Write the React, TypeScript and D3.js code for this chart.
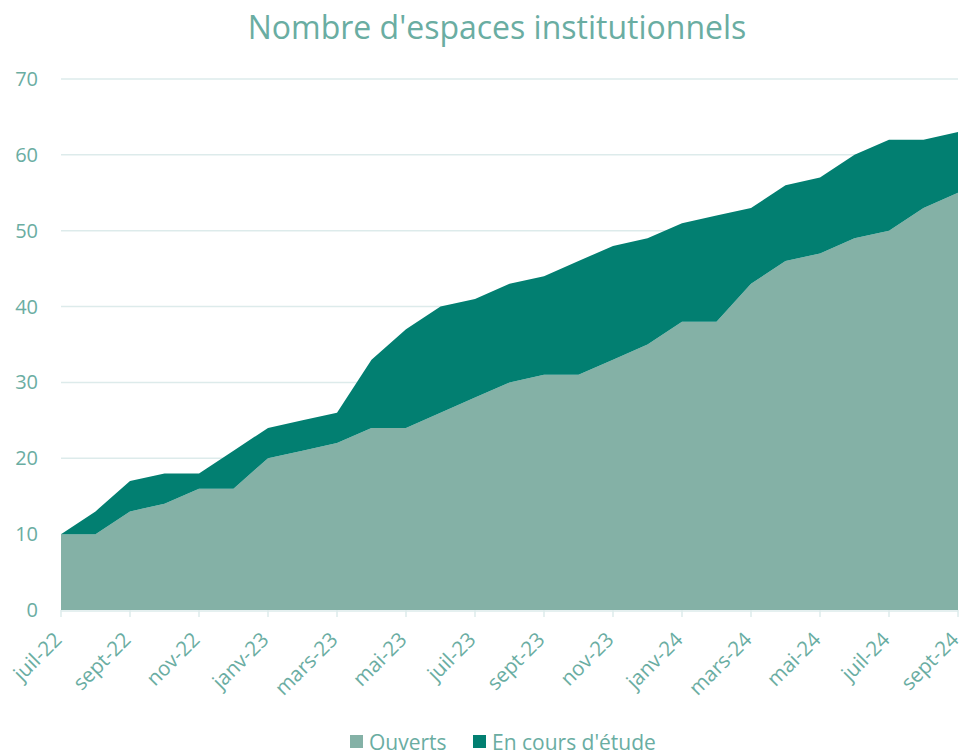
import React from "react";
import * as d3 from "d3";

const months = [
  "juil-22","août-22","sept-22","oct-22","nov-22","déc-22",
  "janv-23","févr-23","mars-23","avr-23","mai-23","juin-23",
  "juil-23","août-23","sept-23","oct-23","nov-23","déc-23",
  "janv-24","févr-24","mars-24","avr-24","mai-24","juin-24",
  "juil-24","août-24","sept-24",
];
const ouverts = [10,10,13,14,16,16,20,21,22,24,24,26,28,30,31,31,33,35,38,38,43,46,47,49,50,53,55];
const enCours = [0,3,4,4,2,5,4,4,4,9,13,14,13,13,13,15,15,14,13,14,10,10,10,11,12,9,8];
const yTicks = [0,10,20,30,40,50,60,70];
const seriesNames = ["Ouverts", "En cours d'étude"];
const colors = ["#84B1A6", "#027F71"];

const W = 963, H = 751;
const left = 61, right = 958, top = 79, bottom = 610;
const textColor = "#6AADA2";
const font = "'Open Sans', sans-serif";

export default function App() {
  const x = d3.scaleLinear().domain([0, months.length - 1]).range([left, right]);
  const y = d3.scaleLinear().domain([0, 70]).range([bottom, top]);
  const rows = months.map((m, i) => ({ i, o: ouverts[i], e: enCours[i] }));
  const stack = d3.stack<any>().keys(["o", "e"])(rows);
  const area = d3.area<any>()
    .x((d) => x(d.data.i))
    .y0((d) => y(d[0]))
    .y1((d) => y(d[1]));

  return (
    <svg width={W} height={H} style={{ position: "absolute", left: 0, top: 0 }}>
      <rect width={W} height={H} fill="#fff" />
      <text x={497} y={39} textAnchor="middle" fontFamily={font} fontSize={32} fill={textColor}>
        Nombre d'espaces institutionnels
      </text>
      {yTicks.map((t) => (
        <g key={t}>
          {t > 0 && <line x1={left} x2={right} y1={y(t)} y2={y(t)} stroke="#DDEBEB" strokeWidth={1.5} />}
          <text x={38} y={y(t) + 7} textAnchor="end" fontFamily={font} fontSize={20} fill={textColor}>{t}</text>
        </g>
      ))}
      {stack.map((s, k) => (
        <path key={k} d={area(s as any) || ""} fill={colors[k]} />
      ))}
      <line x1={left} x2={right} y1={bottom + 1} y2={bottom + 1} stroke="#DDEBEB" strokeWidth={1.5} />
      {months.map((m, i) => i % 2 === 0 ? (
        <g key={m}>
          <line x1={x(i)} x2={x(i)} y1={bottom} y2={bottom + 7} stroke="#DDEBEB" strokeWidth={1.5} />
          <text transform={`translate(${x(i) + 2},${bottom + 31}) rotate(-45)`} textAnchor="end"
            fontFamily={font} fontSize={20.5} fill={textColor}>{m}</text>
        </g>
      ) : null)}
      <g>
        <rect x={350} y={735} width={13} height={13} fill={colors[0]} />
        <text x={369} y={750} fontFamily={font} fontSize={21} fill={textColor}>{seriesNames[0]}</text>
        <rect x={473} y={735} width={13} height={13} fill={colors[1]} />
        <text x={492} y={750} fontFamily={font} fontSize={21} fill={textColor}>{seriesNames[1]}</text>
      </g>
    </svg>
  );
}
